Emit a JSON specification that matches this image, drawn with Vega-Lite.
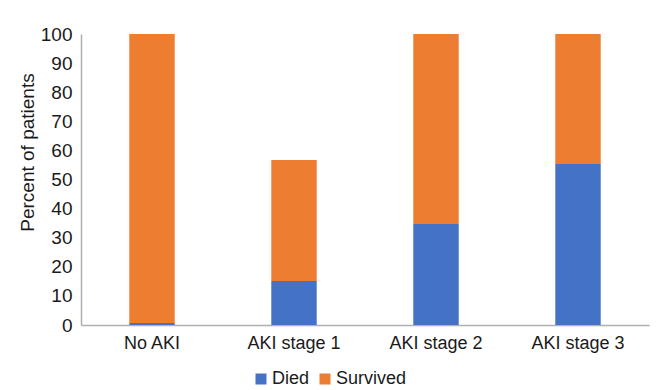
{
  "$schema": "https://vega.github.io/schema/vega-lite/v6.json",
  "width": 568,
  "height": 291,
  "autosize": {"type": "none"},
  "padding": {"left": 81, "top": 34, "right": 11, "bottom": 65},
  "background": "white",
  "config": {
    "font": "Liberation Sans",
    "view": {"stroke": null},
    "axis": {"labelFont": "Liberation Sans", "titleFont": "Liberation Sans", "labelColor": "#1a1a1a", "titleColor": "#1a1a1a"}
  },
  "data": {
    "values": [
      {"group": "No AKI", "outcome": "Died", "percent": 0.7},
      {"group": "No AKI", "outcome": "Survived", "percent": 99.3},
      {"group": "AKI stage 1", "outcome": "Died", "percent": 15.1},
      {"group": "AKI stage 1", "outcome": "Survived", "percent": 41.6},
      {"group": "AKI stage 2", "outcome": "Died", "percent": 34.7},
      {"group": "AKI stage 2", "outcome": "Survived", "percent": 65.3},
      {"group": "AKI stage 3", "outcome": "Died", "percent": 55.3},
      {"group": "AKI stage 3", "outcome": "Survived", "percent": 44.7}
    ]
  },
  "mark": {"type": "bar"},
  "encoding": {
    "x": {
      "field": "group",
      "type": "nominal",
      "sort": ["No AKI", "AKI stage 1", "AKI stage 2", "AKI stage 3"],
      "scale": {"paddingInner": 0.68, "paddingOuter": 0.34},
      "axis": {
        "title": null,
        "labelAngle": 0,
        "labelFontSize": 18,
        "labelPadding": 9,
        "ticks": false,
        "domainColor": "#b0b0b0",
        "domainWidth": 1.5
      }
    },
    "y": {
      "field": "percent",
      "type": "quantitative",
      "stack": "zero",
      "scale": {"domain": [0, 100], "nice": false},
      "axis": {
        "title": "Percent of patients",
        "titleFontSize": 19,
        "titleFontWeight": "normal",
        "titlePadding": 3,
        "titleY": 118,
        "labelFontSize": 19,
        "labelPadding": 9,
        "values": [0, 10, 20, 30, 40, 50, 60, 70, 80, 90, 100],
        "ticks": false,
        "grid": false,
        "domainColor": "#b0b0b0",
        "domainWidth": 1.5
      }
    },
    "color": {
      "field": "outcome",
      "type": "nominal",
      "scale": {"domain": ["Died", "Survived"], "range": ["#4472C4", "#ED7D31"]},
      "legend": {
        "title": null,
        "orient": "none",
        "direction": "horizontal",
        "legendX": 171,
        "legendY": 336,
        "symbolType": "square",
        "symbolSize": 121,
        "symbolStrokeWidth": 0,
        "labelFontSize": 18,
        "labelColor": "#1a1a1a",
        "labelOffset": 2,
        "columnPadding": 6
      }
    },
    "order": {"field": "outcome", "sort": "ascending"}
  }
}
